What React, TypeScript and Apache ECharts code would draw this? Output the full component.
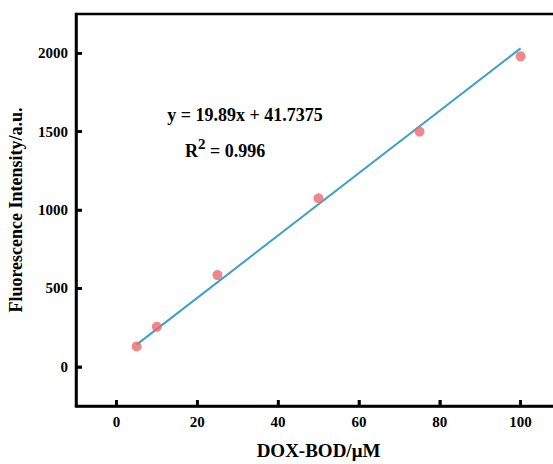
import React, { useEffect, useRef } from "react";
import * as echarts from "echarts";

// Measured concentrations (µM) and fluorescence intensities (a.u.)
const concentrations = [5, 10, 25, 50, 75, 100];
const intensities = [130, 255, 585, 1075, 1500, 1980];

// Linear fit stated in the annotation
const slope = 19.89;
const intercept = 41.7375;
const rSquared = "0.996";
const fitRange = [5, 100];

const xTicks = [0, 20, 40, 60, 80, 100];
const yTicks = [0, 500, 1000, 1500, 2000];
const xRange = [-10, 110];
const yRange = [-250, 2250];

const FONT = "'Liberation Serif', 'Times New Roman', serif";
const TICK_LEN = 6;
const GRID = { left: 76, top: 14, right: -8, bottom: 58 };

export default function App() {
  const ref = useRef<HTMLDivElement>(null);

  useEffect(() => {
    document.body.style.margin = "0";
    if (!ref.current) return;
    const chart = echarts.init(ref.current, undefined, { renderer: "svg" });

    const fitLine = fitRange.map((x) => [x, slope * x + intercept]);
    const points = concentrations.map((c, i) => [c, intensities[i]]);

    const labelStyle = {
      color: "#000",
      fontFamily: FONT,
      fontWeight: "bold",
      fontSize: 15,
      formatter: (v: number) => String(v),
    };
    const nameStyle = {
      color: "#000",
      fontFamily: FONT,
      fontWeight: "bold",
    };

    chart.setOption({
      animation: false,
      backgroundColor: "#ffffff",
      grid: {
        ...GRID,
        outerBoundsMode: "none",
        containLabel: false,
        show: true,
        borderColor: "#000",
        borderWidth: 2.5,
        backgroundColor: "transparent",
      },
      xAxis: {
        type: "value",
        min: xRange[0],
        max: xRange[1],
        splitLine: { show: false },
        axisLine: { show: true, onZero: false, lineStyle: { color: "#000", width: 2.5 } },
        axisTick: {
          show: true,
          inside: true,
          length: TICK_LEN,
          customValues: xTicks,
          lineStyle: { color: "#000", width: 2.5 },
        },
        axisLabel: { ...labelStyle, customValues: xTicks, margin: 8 },
        name: "DOX-BOD/μM",
        nameLocation: "middle",
        nameGap: 35,
        nameTextStyle: { ...nameStyle, fontSize: 19 },
      },
      yAxis: {
        type: "value",
        min: yRange[0],
        max: yRange[1],
        splitLine: { show: false },
        axisLine: { show: true, onZero: false, lineStyle: { color: "#000", width: 2.5 } },
        axisTick: {
          show: true,
          inside: true,
          length: TICK_LEN,
          customValues: yTicks,
          lineStyle: { color: "#000", width: 2.5 },
        },
        axisLabel: { ...labelStyle, customValues: yTicks, margin: 8 },
        name: "Fluorescence Intensity/a.u.",
        nameLocation: "middle",
        nameGap: 51,
        nameTextStyle: { ...nameStyle, fontSize: 18 },
      },
      series: [
        {
          type: "line",
          data: fitLine,
          showSymbol: false,
          symbol: "none",
          lineStyle: { color: "#3E9FC7", width: 2 },
          z: 2,
        },
        {
          type: "scatter",
          data: points,
          symbol: "circle",
          symbolSize: 10,
          itemStyle: { color: "#E96C6F" },
          z: 3,
        },
      ],
    });

    // inward-pointing major ticks, positioned through the axes' scales
    const el = ref.current;
    const plotW = el.clientWidth - GRID.left - GRID.right;
    const plotH = el.clientHeight - GRID.top - GRID.bottom;
    const toPx = (v: number[]) => {
      const p = chart.convertToPixel({ gridIndex: 0 }, v) as number[] | undefined;
      if (p && isFinite(p[0]) && isFinite(p[1])) return p;
      return [
        GRID.left + ((v[0] - xRange[0]) / (xRange[1] - xRange[0])) * plotW,
        GRID.top + ((yRange[1] - v[1]) / (yRange[1] - yRange[0])) * plotH,
      ];
    };
    const tickRect = (x: number, y: number, width: number, height: number) => ({
      type: "rect",
      silent: true,
      z: 10,
      shape: { x, y, width, height },
      style: { fill: "#000" },
    });
    const xTickEls = xTicks.map((v) => {
      const [px, py] = toPx([v, yRange[0]]);
      return tickRect(px - 1.25, py - TICK_LEN, 2.5, TICK_LEN);
    });
    const yTickEls = yTicks.map((v) => {
      const [px, py] = toPx([xRange[0], v]);
      return tickRect(px, py - 1.25, TICK_LEN, 2.5);
    });

    chart.setOption({
      graphic: [
        {
          type: "text",
          x: 245,
          y: 115,
          style: {
            text: `y = ${slope}x + ${intercept}`,
            fill: "#000",
            font: `bold 18px ${FONT}`,
            align: "center",
            verticalAlign: "middle",
          },
        },
        {
          type: "text",
          x: 225,
          y: 148,
          style: {
            text: `{b|R}{s|2}{b| = ${rSquared}}`,
            align: "center",
            verticalAlign: "middle",
            rich: {
              b: { fill: "#000", font: `bold 18px ${FONT}`, verticalAlign: "bottom" },
              s: { fill: "#000", font: `bold 15px ${FONT}`, verticalAlign: "top", padding: [0, 0, 9, 0] },
            },
          },
        },
        ...xTickEls,
        ...yTickEls,
      ],
    });

    return () => chart.dispose();
  }, []);

  return <div ref={ref} style={{ width: 553, height: 464, background: "#fff" }} />;
}
